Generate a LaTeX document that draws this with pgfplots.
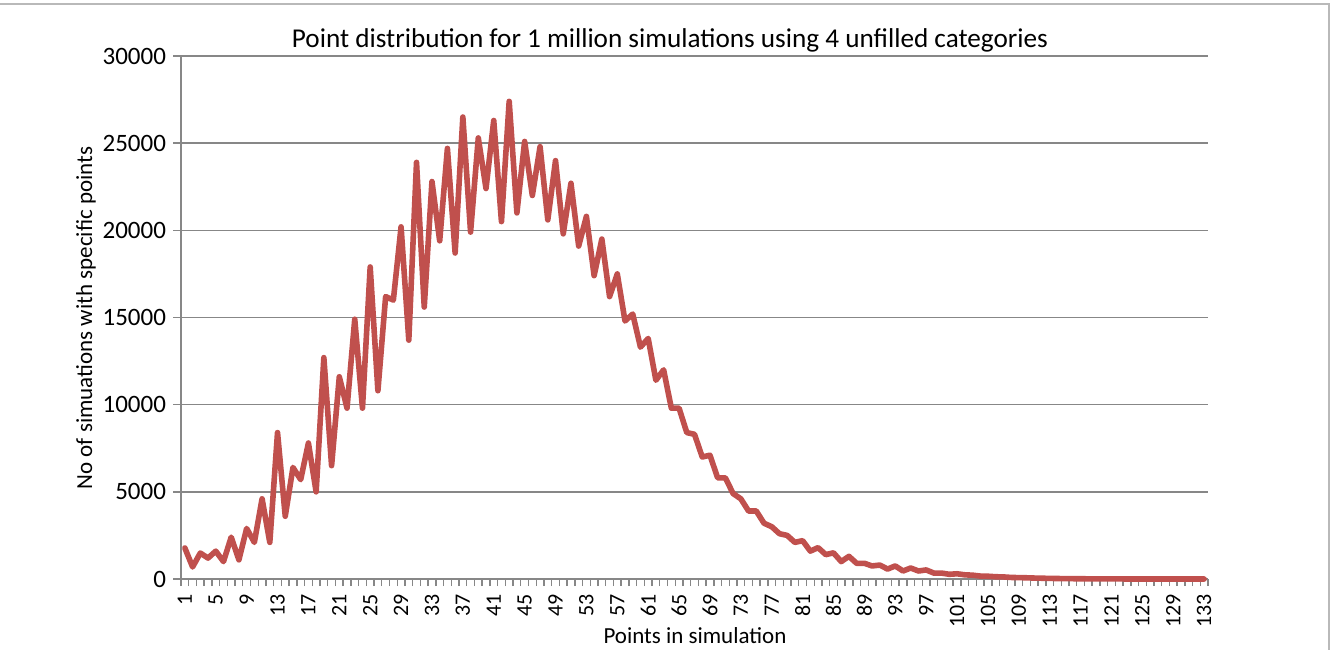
\documentclass[border=0pt]{standalone}
\usepackage{fontspec}
\setmainfont{Carlito}
\usepackage{pgfplots}
\usepackage{pgfplotstable}
\pgfplotsset{compat=1.18}
\definecolor{excelred}{HTML}{C0504D}
\definecolor{gridgray}{HTML}{878787}
\pgfplotstableread{
x y
1 1780
2 690
3 1490
4 1200
5 1600
6 1000
7 2400
8 1100
9 2900
10 2100
11 4600
12 2100
13 8400
14 3600
15 6400
16 5700
17 7800
18 5000
19 12700
20 6500
21 11600
22 9800
23 14900
24 9800
25 17900
26 10800
27 16200
28 16000
29 20200
30 13700
31 23900
32 15600
33 22800
34 19400
35 24700
36 18700
37 26500
38 19900
39 25300
40 22400
41 26300
42 20500
43 27400
44 21000
45 25100
46 22000
47 24800
48 20600
49 24000
50 19800
51 22700
52 19100
53 20800
54 17400
55 19500
56 16200
57 17500
58 14800
59 15200
60 13300
61 13800
62 11400
63 12000
64 9800
65 9800
66 8400
67 8300
68 7000
69 7100
70 5800
71 5800
72 4900
73 4600
74 3900
75 3900
76 3200
77 3000
78 2600
79 2500
80 2100
81 2200
82 1600
83 1800
84 1400
85 1500
86 1000
87 1300
88 900
89 900
90 750
91 800
92 570
93 750
94 460
95 630
96 460
97 520
98 340
99 340
100 270
101 300
102 240
103 220
104 170
105 160
106 130
107 120
108 90
109 80
110 70
111 55
112 45
113 35
114 28
115 22
116 18
117 14
118 11
119 9
120 7
121 5
122 4
123 3
124 3
125 2
126 2
127 1
128 1
129 1
130 1
131 0
132 0
133 0
}\simdata
\begin{document}
\begin{tikzpicture}
\path[use as bounding box] (0,0) rectangle (671pt,325pt);
\draw[gray!55, line width=0.6pt] (0,323pt) -- (664.5pt,323pt) -- (664.5pt,0);
\begin{axis}[
  at={(90.5pt,35.5pt)}, anchor=south west,
  scale only axis, width=513.5pt, height=261.5pt,
  xmin=0.5, xmax=133.5, ymin=0, ymax=30000,
  axis lines*=left,
  axis line style={-, draw=gridgray, line width=0.8pt},
  xtick={1,5,...,133},
  minor xtick={0.5,1.5,...,133.5},
  major x tick style={draw=none},
  ytick={0,5000,...,30000},
  tick align=outside,
  major tick length=4pt,
  minor tick length=3.5pt,
  tick style={draw=gridgray, line width=0.7pt},
  ymajorgrids,
  grid style={draw=gridgray, line width=0.8pt},
  scaled y ticks=false,
  /pgf/number format/1000 sep={},
  /pgf/number format/assume math mode=true,
  x tick label style={rotate=90, anchor=east, font=\fontsize{11}{12}\selectfont},
  y tick label style={font=\fontsize{12.5}{14}\selectfont},
  clip=false,
]
\addplot[excelred, line width=2.8pt, line join=round, line cap=round] table[x=x,y=y] {\simdata};
\end{axis}
\node[font=\fontsize{13.6}{16}\selectfont] at (335pt,305pt) {Point distribution for 1 million simulations using 4 unfilled categories};
\node[rotate=90, font=\fontsize{11.5}{13}\selectfont] at (43pt,166pt) {No of simuations with specific points};
\node[font=\fontsize{11.5}{13}\selectfont] at (347.5pt,7pt) {Points in simulation};
\end{tikzpicture}
\end{document}
